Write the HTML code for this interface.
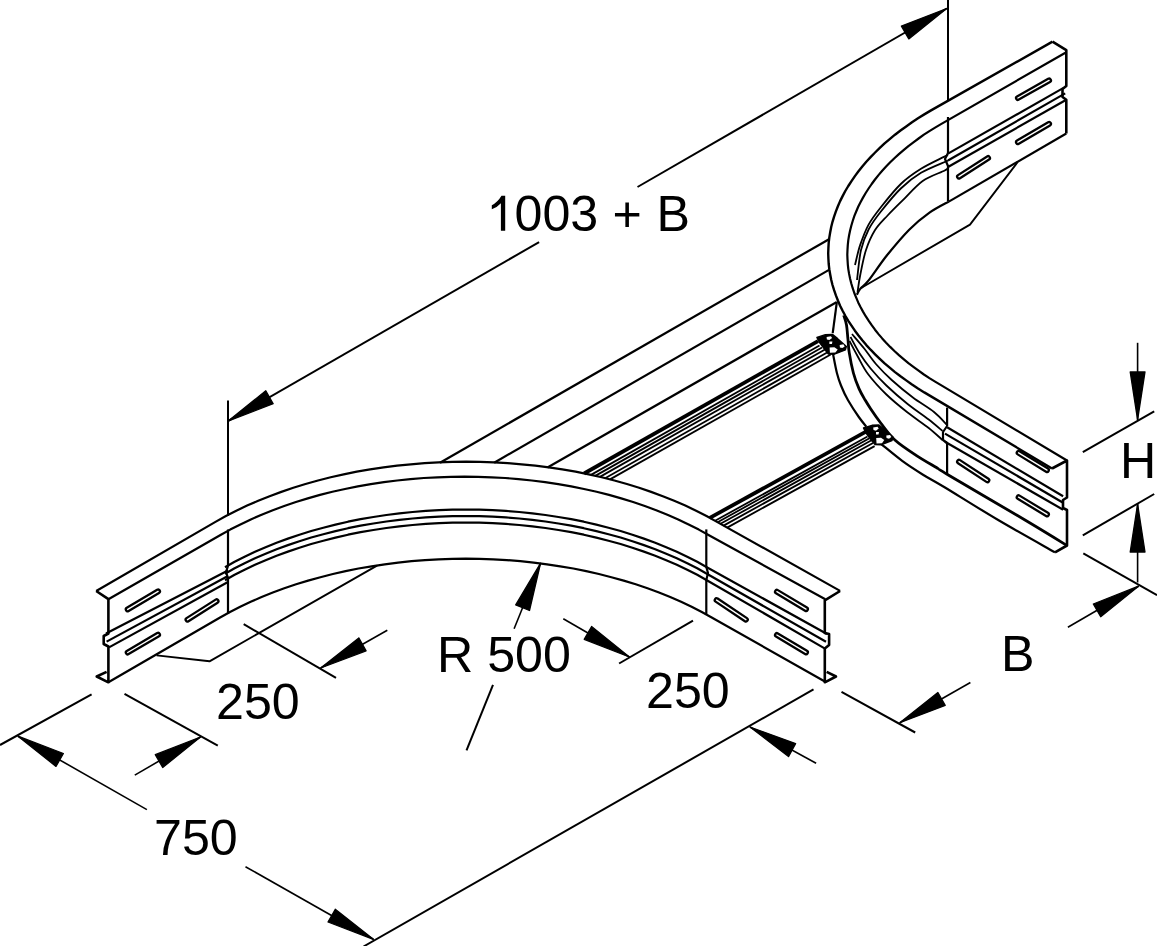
<!DOCTYPE html>
<html><head><meta charset="utf-8"><style>
html,body{margin:0;padding:0;background:#fff;width:1157px;height:946px;overflow:hidden}
svg{display:block}
text{font-family:"Liberation Sans",sans-serif}
</style></head><body>
<svg width="1157" height="946" viewBox="0 0 1157 946">
<g fill="none" stroke="#000" stroke-linejoin="round" stroke-linecap="butt">
<path d="M227.9,421.2 L539.1,242.1" stroke-width="2.0"/>
<path d="M227.9,421.2 L273.2,403.7 L265.8,390.8 Z" fill="#000" stroke-width="1.3"/>
<path d="M637.5,187.0 L946.7,8.5" stroke-width="2.0"/>
<path d="M946.7,8.5 L901.4,26.1 L908.8,38.9 Z" fill="#000" stroke-width="1.3"/>
<path d="M228.0,400.5 L228.0,516.0" stroke-width="2.0"/>
<path d="M948.0,0.0 L948.0,100.0" stroke-width="2.0"/>
<path d="M18.0,736.2 L146.9,809.6" stroke-width="1.6"/>
<path d="M18.0,736.2 L56.0,766.4 L63.4,753.5 Z" fill="#000" stroke-width="1.3"/>
<path d="M373.4,939.3 L245.5,866.7" stroke-width="1.6"/>
<path d="M373.4,939.3 L335.3,909.2 L328.0,922.0 Z" fill="#000" stroke-width="1.3"/>
<path d="M0.0,745.0 L91.6,694.4" stroke-width="2.0"/>
<path d="M363.5,946.5 L813.5,689.4" stroke-width="2.0"/>
<path d="M320.7,668.0 L387.3,630.3" stroke-width="1.6"/>
<path d="M320.7,668.0 L366.1,650.8 L358.8,637.9 Z" fill="#000" stroke-width="1.3"/>
<path d="M200.5,737.0 L134.8,775.1" stroke-width="1.6"/>
<path d="M200.5,737.0 L155.3,754.7 L162.7,767.5 Z" fill="#000" stroke-width="1.3"/>
<path d="M243.7,624.2 L336.0,677.8" stroke-width="2.0"/>
<path d="M124.5,693.8 L217.8,745.7" stroke-width="2.0"/>
<path d="M629.4,657.0 L563.3,618.7" stroke-width="1.6"/>
<path d="M629.4,657.0 L591.6,626.5 L584.2,639.3 Z" fill="#000" stroke-width="1.3"/>
<path d="M750.0,727.0 L816.1,763.3" stroke-width="1.6"/>
<path d="M750.0,727.0 L788.5,756.6 L795.6,743.6 Z" fill="#000" stroke-width="1.3"/>
<path d="M619.1,663.5 L693.0,620.7" stroke-width="2.0"/>
<path d="M540.6,563.2 L514.1,628.7" stroke-width="1.6"/>
<path d="M540.6,563.2 L515.7,604.9 L529.5,610.5 Z" fill="#000" stroke-width="1.3"/>
<path d="M493.0,684.8 L466.5,750.4" stroke-width="2.0"/>
<path d="M1137.6,419.9 L1137.6,342.8" stroke-width="1.6"/>
<path d="M1137.6,419.9 L1145.0,371.9 L1130.2,371.9 Z" fill="#000" stroke-width="1.3"/>
<path d="M1137.6,504.0 L1137.6,582.5" stroke-width="1.6"/>
<path d="M1137.6,504.0 L1130.2,552.0 L1145.0,552.0 Z" fill="#000" stroke-width="1.3"/>
<path d="M1082.8,452.1 L1154.2,411.3" stroke-width="2.0"/>
<path d="M1082.8,535.4 L1154.2,494.0" stroke-width="2.0"/>
<path d="M1138.5,586.2 L1067.9,627.3" stroke-width="1.6"/>
<path d="M1138.5,586.2 L1093.3,604.0 L1100.7,616.7 Z" fill="#000" stroke-width="1.3"/>
<path d="M899.8,722.7 L970.4,682.5" stroke-width="1.6"/>
<path d="M899.8,722.7 L945.2,705.4 L937.9,692.5 Z" fill="#000" stroke-width="1.3"/>
<path d="M1083.3,553.3 L1157.0,595.2" stroke-width="2.0"/>
<path d="M841.5,691.8 L915.2,732.5" stroke-width="2.0"/>
<path d="M505.2,195.8 L505.2,230.8 L500.9,230.8 L500.9,203.2 Q497,207.5 491.8,209.3 L491.8,205.2 Q497.5,202.5 501.5,195.8 Z" fill="#000" stroke="none"/>
<path d="M96.2,591.0 L215.9,521.6 L225.9,516.0 L236.3,510.7 L247.1,505.6 L258.2,500.8 L269.6,496.2 L281.3,491.9 L293.3,487.8 L305.5,484.0 L318.0,480.5 L330.7,477.3 L343.7,474.4 L356.8,471.7 L370.1,469.4 L383.6,467.4 L397.1,465.7 L410.8,464.3 L424.6,463.2 L438.4,462.4 L452.3,461.9 L466.2,461.7 L480.1,461.9 L494.0,462.4 L507.8,463.2 L521.6,464.3 L535.3,465.7 L548.8,467.4 L562.3,469.4 L575.6,471.7 L588.7,474.4 L601.7,477.3 L614.4,480.5 L626.9,484.0 L639.1,487.8 L651.1,491.9 L662.8,496.2 L674.2,500.8 L685.3,505.6 L696.1,510.7 L706.5,516.0 L716.5,521.6 L840.1,590.9" stroke-width="2.2"/>
<path d="M108.4,599.2 L220.5,535.0 L230.2,529.6 L240.4,524.4 L250.8,519.4 L261.6,514.7 L272.8,510.2 L284.2,506.0 L295.9,502.0 L307.8,498.4 L320.0,494.9 L332.4,491.8 L345.0,489.0 L357.8,486.4 L370.8,484.1 L383.9,482.1 L397.2,480.5 L410.5,479.1 L423.9,478.0 L437.4,477.3 L451.0,476.8 L464.5,476.6 L478.0,476.8 L491.6,477.3 L505.1,478.0 L518.5,479.1 L531.8,480.5 L545.1,482.1 L558.2,484.1 L571.2,486.4 L584.0,489.0 L596.6,491.8 L609.0,494.9 L621.2,498.4 L633.1,502.0 L644.8,506.0 L656.2,510.2 L667.4,514.7 L678.2,519.4 L688.6,524.4 L698.8,529.6 L708.5,535.0 L825.3,599.3" stroke-width="2.2"/>
<path d="M108.4,682.3 L220.1,617.5 L230.0,612.0 L240.2,606.8 L250.7,601.8 L261.6,597.0 L272.8,592.5 L284.3,588.3 L296.1,584.3 L308.1,580.6 L320.4,577.2 L332.9,574.0 L345.6,571.1 L358.5,568.5 L371.6,566.3 L384.8,564.3 L398.1,562.6 L411.5,561.2 L425.0,560.1 L438.6,559.3 L452.3,558.9 L465.9,558.7 L479.5,558.9 L493.2,559.3 L506.8,560.1 L520.3,561.2 L533.7,562.6 L547.0,564.3 L560.2,566.3 L573.3,568.5 L586.2,571.1 L598.9,574.0 L611.4,577.2 L623.7,580.6 L635.7,584.3 L647.5,588.3 L659.0,592.5 L670.2,597.0 L681.1,601.8 L691.6,606.8 L701.8,612.0 L711.7,617.5 L825.3,681.8" stroke-width="2.2"/>
<path d="M106.0,633.5 L228.0,570.5" stroke-width="2.2"/>
<path d="M106.6,641.6 L228.0,576.0" stroke-width="2.2"/>
<path d="M109.0,647.4 L228.0,582.0" stroke-width="2.2"/>
<path d="M225.0,567.2 L234.6,561.8 L244.6,556.7 L255.0,551.8 L265.6,547.2 L276.6,542.7 L287.9,538.6 L299.4,534.7 L311.2,531.0 L323.3,527.7 L335.5,524.6 L348.0,521.7 L360.6,519.2 L373.4,517.0 L386.4,515.0 L399.4,513.4 L412.6,512.0 L425.9,510.9 L439.2,510.2 L452.5,509.7 L465.9,509.6 L479.3,509.7 L492.6,510.2 L505.9,510.9 L519.2,512.0 L532.4,513.4 L545.4,515.0 L558.4,517.0 L571.2,519.2 L583.8,521.7 L596.3,524.6 L608.5,527.7 L620.6,531.0 L632.4,534.7 L643.9,538.6 L655.2,542.7 L666.2,547.2 L676.8,551.8 L687.2,556.7 L697.2,561.8 L706.8,567.2 L827.0,634.0" stroke-width="2.2"/>
<path d="M225.0,573.7 L234.6,568.3 L244.6,563.2 L255.0,558.3 L265.6,553.7 L276.6,549.2 L287.9,545.1 L299.4,541.2 L311.2,537.5 L323.3,534.2 L335.5,531.1 L348.0,528.2 L360.6,525.7 L373.4,523.5 L386.4,521.5 L399.4,519.9 L412.6,518.5 L425.9,517.4 L439.2,516.7 L452.5,516.2 L465.9,516.1 L479.3,516.2 L492.6,516.7 L505.9,517.4 L519.2,518.5 L532.4,519.9 L545.4,521.5 L558.4,523.5 L571.2,525.7 L583.8,528.2 L596.3,531.1 L608.5,534.2 L620.6,537.5 L632.4,541.2 L643.9,545.1 L655.2,549.2 L666.2,553.7 L676.8,558.3 L687.2,563.2 L697.2,568.3 L706.8,573.7 L826.0,641.8" stroke-width="2.2"/>
<path d="M225.0,580.2 L234.6,574.8 L244.6,569.7 L255.0,564.8 L265.6,560.2 L276.6,555.7 L287.9,551.6 L299.4,547.7 L311.2,544.0 L323.3,540.7 L335.5,537.6 L348.0,534.7 L360.6,532.2 L373.4,530.0 L386.4,528.0 L399.4,526.4 L412.6,525.0 L425.9,523.9 L439.2,523.2 L452.5,522.7 L465.9,522.6 L479.3,522.7 L492.6,523.2 L505.9,523.9 L519.2,525.0 L532.4,526.4 L545.4,528.0 L558.4,530.0 L571.2,532.2 L583.8,534.7 L596.3,537.6 L608.5,540.7 L620.6,544.0 L632.4,547.7 L643.9,551.6 L655.2,555.7 L666.2,560.2 L676.8,564.8 L687.2,569.7 L697.2,574.8 L706.8,580.2 L825.0,648.6" stroke-width="2.2"/>
<path d="M228.0,529.5 L228.0,566.0" stroke-width="2.2"/>
<path d="M228.0,566.0 L226.0,572.0 L228.0,578.0 L228.0,614.0" stroke-width="2.2"/>
<path d="M706.3,529.4 L706.3,567.0" stroke-width="2.2"/>
<path d="M706.3,567.0 L708.0,573.0 L706.3,580.0 L706.3,614.0" stroke-width="2.2"/>
<path d="M96.2,591.0 L108.4,599.2 L108.4,633.5 L103.7,636.0 L103.7,644.0 L108.4,646.5 L108.4,682.3 L96.7,676.5 L106.6,671.9" stroke-width="2.6"/>
<path d="M840.1,591.0 L824.8,600.3 L824.8,632.9 L829.1,634.0 L829.1,645.1 L824.8,648.6 L824.8,682.3 L836.0,676.5 L826.7,671.9" stroke-width="2.6"/>
<path d="M127.7,609.4 L158.1,591.4" stroke-width="6.0" stroke-linecap="round"/>
<path d="M127.7,609.4 L158.1,591.4" stroke-width="1.4" stroke="#fff" stroke-linecap="round"/>
<path d="M127.7,652.5 L158.1,634.7" stroke-width="6.0" stroke-linecap="round"/>
<path d="M127.7,652.5 L158.1,634.7" stroke-width="1.4" stroke="#fff" stroke-linecap="round"/>
<path d="M187.5,619.7 L216.6,601.2" stroke-width="6.0" stroke-linecap="round"/>
<path d="M187.5,619.7 L216.6,601.2" stroke-width="1.4" stroke="#fff" stroke-linecap="round"/>
<path d="M776.9,591.7 L806.0,609.1" stroke-width="6.0" stroke-linecap="round"/>
<path d="M776.9,591.7 L806.0,609.1" stroke-width="1.4" stroke="#fff" stroke-linecap="round"/>
<path d="M716.6,600.1 L745.9,619.7" stroke-width="6.0" stroke-linecap="round"/>
<path d="M716.6,600.1 L745.9,619.7" stroke-width="1.4" stroke="#fff" stroke-linecap="round"/>
<path d="M776.9,635.0 L806.0,652.4" stroke-width="6.0" stroke-linecap="round"/>
<path d="M776.9,635.0 L806.0,652.4" stroke-width="1.4" stroke="#fff" stroke-linecap="round"/>
<path d="M156.6,655.4 L209.5,661.3 L377.0,565.7" stroke-width="1.9"/>
<path d="M440.0,462.7 L829.0,239.2" stroke-width="2.2"/>
<path d="M494.2,462.7 L829.0,269.9" stroke-width="2.2"/>
<path d="M547.5,467.5 L836.4,302.2" stroke-width="2.2"/>
<path d="M1052.5,41.6 L930.6,110.6 L924.3,114.4 L918.0,118.3 L912.0,122.3 L906.2,126.4 L900.5,130.5 L895.0,134.7 L889.7,139.1 L884.6,143.4 L879.8,147.9 L875.1,152.5 L870.6,157.1 L866.3,161.7 L862.3,166.5 L858.5,171.3 L854.9,176.1 L851.5,181.1 L848.3,186.0 L845.3,191.0 L842.6,196.1 L840.1,201.1 L837.9,206.3 L835.9,211.4 L834.1,216.6 L832.5,221.8 L831.2,227.0 L830.2,232.3 L829.3,237.6 L828.7,242.8 L828.4,248.1 L828.2,253.4 L828.4,258.7 L828.7,264.0 L829.3,269.2 L830.2,274.5 L831.2,279.8 L832.5,285.0 L834.1,290.2 L835.9,295.4 L837.9,300.5 L840.1,305.7 L842.6,310.7 L845.3,315.8 L848.3,320.8 L851.5,325.7 L854.9,330.7 L858.5,335.5 L862.3,340.3 L866.3,345.1 L870.6,349.7 L875.1,354.3 L879.8,358.9 L884.6,363.4 L889.7,367.7 L895.0,372.1 L900.5,376.3 L906.2,380.4 L912.0,384.5 L918.0,388.5 L924.3,392.4 L930.6,396.1 L1052.0,468.5" stroke-width="2.4"/>
<path d="M1066.3,52.2 L941.0,124.1 L935.1,127.6 L929.4,131.1 L923.9,134.7 L918.6,138.5 L913.4,142.3 L908.4,146.1 L903.6,150.1 L898.9,154.1 L894.4,158.2 L890.2,162.3 L886.1,166.5 L882.2,170.8 L878.5,175.1 L875.0,179.5 L871.7,184.0 L868.6,188.5 L865.7,193.0 L863.0,197.6 L860.5,202.2 L858.2,206.8 L856.2,211.5 L854.3,216.2 L852.7,221.0 L851.3,225.7 L850.1,230.5 L849.1,235.3 L848.3,240.1 L847.8,244.9 L847.5,249.8 L847.3,254.6 L847.5,259.4 L847.8,264.3 L848.3,269.1 L849.1,273.9 L850.1,278.7 L851.3,283.5 L852.7,288.2 L854.3,293.0 L856.2,297.7 L858.2,302.4 L860.5,307.0 L863.0,311.6 L865.7,316.2 L868.6,320.7 L871.7,325.2 L875.0,329.7 L878.5,334.1 L882.2,338.4 L886.1,342.7 L890.2,346.9 L894.4,351.0 L898.9,355.1 L903.6,359.1 L908.4,363.1 L913.4,366.9 L918.6,370.7 L923.9,374.5 L929.4,378.1 L935.1,381.6 L941.0,385.1 L1067.0,460.5" stroke-width="2.2"/>
<path d="M1063.1,88.1 L948.0,153.6" stroke-width="2.2"/>
<path d="M1065.2,93.4 L948.0,160.5" stroke-width="2.2"/>
<path d="M1066.3,99.7 L948.0,167.0" stroke-width="2.2"/>
<path d="M948.0,155.0 C947.3,155.3 948.4,154.6 943.9,156.9 C939.4,159.2 928.2,164.3 921.0,168.8 C913.8,173.3 907.5,177.5 900.8,184.0 C894.0,190.5 885.9,200.9 880.5,207.7 C875.1,214.5 872.0,218.4 868.6,224.6 C865.2,230.8 862.5,238.2 860.2,244.9 C857.9,251.6 855.9,261.6 855.0,265.0" stroke-width="1.8"/>
<path d="M948.0,160.5 C943.5,162.6 928.9,168.1 921.0,172.8 C913.1,177.5 907.5,182.0 900.8,188.5 C894.0,195.0 885.9,205.2 880.5,212.0 C875.1,218.8 871.9,223.2 868.6,229.5 C865.4,235.8 862.9,241.6 861.0,250.0 C859.1,258.4 857.7,275.0 857.0,280.0" stroke-width="1.8"/>
<path d="M948.0,167.5 C947.5,168.0 948.9,168.2 944.7,170.5 C940.5,172.8 929.6,176.1 922.7,181.0 C915.8,185.9 909.2,193.9 903.4,199.7 C897.5,205.4 892.4,210.4 887.6,215.5 C882.9,220.6 878.5,224.6 874.9,230.3 C871.3,236.1 868.5,242.5 866.0,250.0 C863.5,257.5 861.6,268.3 860.2,275.3 C858.8,282.3 858.0,289.2 857.5,292.0" stroke-width="1.8"/>
<path d="M1066.3,133.5 L948.8,201.6" stroke-width="2.2"/>
<path d="M948.8,201.6 C945.6,203.4 936.1,208.0 929.5,212.7 C922.9,217.4 916.2,222.6 909.2,229.7 C902.2,236.8 894.0,246.6 887.2,255.0 C880.4,263.4 873.1,274.8 868.6,280.4 C864.1,286.0 862.2,286.5 860.2,288.9 C858.2,291.3 857.5,293.7 856.9,294.7" stroke-width="2.2"/>
<path d="M1017.7,162.0 L970.0,224.6 L861.5,287.7" stroke-width="1.9"/>
<path d="M852.0,334.0 C854.0,336.4 860.2,343.5 864.2,348.5 C868.2,353.5 871.3,358.8 875.9,364.0 C880.5,369.2 885.5,374.4 891.7,380.0 C897.9,385.6 905.9,392.2 912.9,397.5 C919.9,402.8 928.4,407.5 934.0,412.0 C939.6,416.5 944.6,422.5 946.7,424.6" stroke-width="1.8"/>
<path d="M850.5,337.0 C852.1,339.8 856.6,348.8 860.0,354.0 C863.4,359.2 866.2,363.2 870.6,368.5 C875.0,373.8 880.2,379.6 886.4,385.5 C892.6,391.4 900.5,398.3 907.6,404.0 C914.7,409.7 922.9,415.0 928.7,419.5 C934.5,424.0 940.2,429.0 942.5,430.9" stroke-width="1.8"/>
<path d="M849.5,341.0 C850.8,343.5 854.4,350.5 857.5,356.0 C860.6,361.5 863.2,367.6 868.0,374.0 C872.8,380.4 879.8,388.1 886.4,394.5 C893.0,400.9 900.5,406.9 907.6,412.5 C914.7,418.1 922.9,423.4 928.7,428.0 C934.5,432.6 940.2,438.0 942.5,440.0" stroke-width="1.8"/>
<path d="M947.1,427.3 L1063.1,496.3" stroke-width="2.2"/>
<path d="M945.0,433.6 L1063.1,502.7" stroke-width="2.2"/>
<path d="M945.0,441.8 L1063.1,509.7" stroke-width="2.2"/>
<path d="M843.7,315.3 C844.2,316.9 845.8,321.1 846.5,325.0 C847.2,328.9 847.4,334.1 847.9,338.7 C848.4,343.3 848.3,346.7 849.2,352.4 C850.1,358.1 851.8,367.0 853.4,373.0 C855.0,379.0 857.0,384.1 859.0,388.6 C861.0,393.2 863.4,397.0 865.3,400.3 C867.2,403.6 868.0,404.8 870.6,408.7 C873.2,412.6 877.1,418.3 881.1,423.5 C885.1,428.7 889.1,434.7 894.9,440.0 C900.7,445.3 909.1,450.7 916.1,455.3 C923.1,459.9 931.5,464.6 936.8,467.8 C942.1,471.0 933.2,466.0 947.9,474.7 C962.6,483.4 1005.1,508.2 1025.0,520.0 C1044.8,531.8 1060.0,541.2 1067.0,545.5" stroke-width="2.8"/>
<path d="M832.7,352.4 C833.4,355.8 835.5,367.5 836.9,373.0 C838.3,378.5 839.2,381.0 841.0,385.5 C842.8,390.0 844.9,394.8 847.9,400.0 C850.9,405.2 855.7,412.6 858.8,417.0 C861.9,421.4 865.0,425.1 866.3,426.7" stroke-width="2.2"/>
<path d="M881.5,444.3 C885.0,447.1 895.3,455.8 902.2,460.9 C909.1,466.0 915.9,470.3 923.0,474.7 C930.1,479.1 932.5,479.9 945.0,487.5 C957.5,495.1 979.9,509.2 998.2,520.0 C1016.5,530.8 1045.5,546.9 1055.0,552.3" stroke-width="2.2"/>
<path d="M948.0,117.0 L948.0,153.0" stroke-width="2.2"/>
<path d="M948.0,153.0 L945.0,159.0 L948.0,166.0 L948.0,201.6" stroke-width="2.2"/>
<path d="M947.1,407.6 L947.1,426.0" stroke-width="2.2"/>
<path d="M947.1,426.0 L943.0,432.0 L943.0,440.0 L947.1,443.0 L947.1,474.8" stroke-width="2.2"/>
<path d="M1052.5,41.6 L1066.3,50.1 L1066.3,86.0 L1062.5,89.0 L1062.5,97.0 L1066.3,99.7 L1066.3,133.5" stroke-width="2.6"/>
<path d="M1052.0,468.5 L1067.0,460.5 L1067.0,497.5 L1063.0,500.0 L1063.0,508.0 L1067.0,510.0 L1067.0,545.5 L1055.0,552.3" stroke-width="2.6"/>
<path d="M1017.9,98.0 L1049.1,80.4" stroke-width="6.0" stroke-linecap="round"/>
<path d="M1017.9,98.0 L1049.1,80.4" stroke-width="1.4" stroke="#fff" stroke-linecap="round"/>
<path d="M1017.9,142.2 L1049.1,123.8" stroke-width="6.0" stroke-linecap="round"/>
<path d="M1017.9,142.2 L1049.1,123.8" stroke-width="1.4" stroke="#fff" stroke-linecap="round"/>
<path d="M959.0,176.7 L988.1,158.0" stroke-width="6.0" stroke-linecap="round"/>
<path d="M959.0,176.7 L988.1,158.0" stroke-width="1.4" stroke="#fff" stroke-linecap="round"/>
<path d="M1018.6,452.8 L1047.0,470.1" stroke-width="6.0" stroke-linecap="round"/>
<path d="M1018.6,452.8 L1047.0,470.1" stroke-width="1.4" stroke="#fff" stroke-linecap="round"/>
<path d="M959.0,461.7 L987.4,480.3" stroke-width="6.0" stroke-linecap="round"/>
<path d="M959.0,461.7 L987.4,480.3" stroke-width="1.4" stroke="#fff" stroke-linecap="round"/>
<path d="M1018.6,497.2 L1047.0,514.4" stroke-width="6.0" stroke-linecap="round"/>
<path d="M1018.6,497.2 L1047.0,514.4" stroke-width="1.4" stroke="#fff" stroke-linecap="round"/>
<path d="M584.1,473.5 L818.0,341.1" stroke-width="3.8"/>
<path d="M591.0,474.9 L819.5,345.5" stroke-width="1.8"/>
<path d="M595.3,475.9 L822.0,347.5" stroke-width="1.8"/>
<path d="M599.9,476.9 L825.0,349.5" stroke-width="1.8"/>
<path d="M605.1,478.2 L828.0,352.0" stroke-width="1.8"/>
<path d="M610.0,479.4 L830.7,354.5" stroke-width="1.8"/>
<path d="M709.8,517.9 L866.0,431.6" stroke-width="3.8"/>
<path d="M715.1,520.8 L867.5,436.5" stroke-width="1.8"/>
<path d="M717.6,522.2 L869.5,438.2" stroke-width="1.8"/>
<path d="M720.5,523.8 L871.5,440.3" stroke-width="1.8"/>
<path d="M723.6,525.6 L873.0,443.0" stroke-width="1.8"/>
<path d="M727.2,527.6 L874.6,446.1" stroke-width="1.8"/>
<path d="M863.5,428.0 L872.0,425.3 L879.0,425.0 L884.0,429.0 L893.0,437.0 L892.0,440.5 L881.0,444.8 L875.0,444.6 L872.0,441.0 L866.0,433.0 Z" fill="#000" stroke-width="1.4"/>
<path d="M873.2,427.5 L877.5,426.8 L878.7,428.5 L876.0,430.7 L873.5,430.0 Z" fill="#fff" stroke="none"/>
<path d="M886.3,435.5 L890.0,434.9 L891.3,437.0 L889.0,438.7 L886.5,438.0 Z" fill="#fff" stroke="none"/>
<path d="M876.2,438.0 L881.0,437.8 L884.3,440.0 L882.0,443.2 L876.5,443.4 Z" fill="#fff" stroke="none"/>
<path d="M876.0,432.0 L879.0,432.0 L878.5,434.5 L876.0,434.5 Z" fill="#fff" stroke="none"/>
<path d="M816.9,337.4 L825.4,334.7 L832.4,334.4 L837.4,338.4 L846.4,346.4 L845.4,349.9 L834.4,354.2 L828.4,354.0 L825.4,350.4 L819.4,342.4 Z" fill="#000" stroke-width="1.4"/>
<path d="M826.6,336.9 L830.9,336.2 L832.1,337.9 L829.4,340.1 L826.9,339.4 Z" fill="#fff" stroke="none"/>
<path d="M839.7,344.9 L843.4,344.3 L844.7,346.4 L842.4,348.1 L839.9,347.4 Z" fill="#fff" stroke="none"/>
<path d="M829.6,347.4 L834.4,347.2 L837.7,349.4 L835.4,352.6 L829.9,352.8 Z" fill="#fff" stroke="none"/>
<path d="M829.4,341.4 L832.4,341.4 L831.9,343.9 L829.4,343.9 Z" fill="#fff" stroke="none"/>
<path d="M836.9,301.6 L832.7,333.2" stroke-width="2.2"/>
</g>
<g font-family="Liberation Sans, sans-serif" fill="#000">
<text x="514.5" y="231.0" font-size="50.2">003</text>
<text x="612.6" y="231.0" font-size="50.2">+</text>
<text x="656.5" y="231.0" font-size="50.2">B</text>
<text x="437.0" y="672.0" font-size="50.2">R 500</text>
<text x="216.0" y="719.0" font-size="50.2">250</text>
<text x="646.0" y="707.6" font-size="50.2">250</text>
<text x="154.0" y="854.6" font-size="50.2">750</text>
<text x="1001.0" y="670.9" font-size="50.2">B</text>
<text x="1120.0" y="478.4" font-size="50.2">H</text>
</g>
</svg>
</body></html>
